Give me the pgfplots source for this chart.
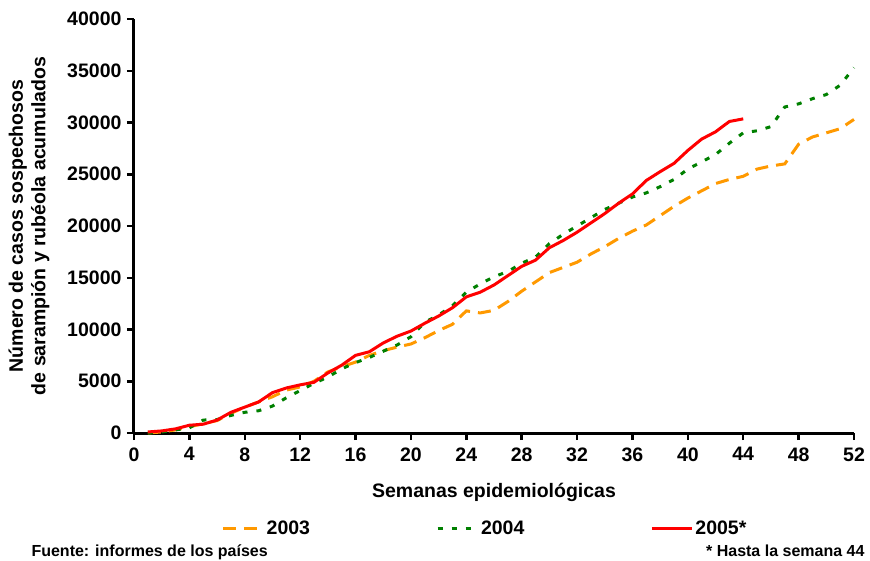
\documentclass[border=0pt]{standalone}
\usepackage{pgfplots}
\pgfplotsset{compat=1.18}
\usepackage{fontspec}
\setmainfont{Liberation Sans}
\definecolor{c2003}{RGB}{255,153,0}
\definecolor{c2004}{RGB}{0,128,0}
\definecolor{c2005}{RGB}{255,0,0}
\begin{document}
\begin{tikzpicture}[font=\bfseries\fontsize{19.5}{22.5}\selectfont]
\begin{axis}[
  at={(0pt,0pt)}, anchor=south west,
  scale only axis, width=720pt, height=414pt,
  xmin=0, xmax=52, ymin=0, ymax=40000,
  axis x line*=bottom, axis y line*=left,
  axis line style={line width=3pt, black},
  xtick={0,4,...,52}, ytick={0,5000,...,40000},
  tick style={line width=2.5pt, black},
  major tick length=7pt,
  tick align=outside,
  /pgf/number format/assume math mode=true,
  scaled y ticks=false,
  yticklabel style={/pgf/number format/1000 sep={}, xshift=-2pt},
  xticklabel style={yshift=-4pt},
  xlabel={Semanas epidemiológicas},
  xlabel style={at={(axis description cs:0.5,-0.1425)}, anchor=center},
  ylabel={Número de casos sospechosos\\de sarampión y rubéola acumulados},
  ylabel style={align=center, at={(axis description cs:-0.1458,0.5)}, anchor=center},
  legend columns=3,
  legend style={at={(axis description cs:0.1215,-0.2295)}, anchor=west, draw=none, inner sep=0pt,
    /tikz/every even column/.append style={column sep=124pt}},
  legend image code/.code={\draw[#1] (0pt,0pt) -- (40pt,0pt);},
  clip=false,
]
\addplot[c2003, line width=3pt, dash pattern=on 13pt off 8pt] coordinates {
(1,0) (2,100) (3,300) (4,600) (5,900) (6,1200) (7,1900) (8,2500) (9,3000) (10,3500)
(11,4150) (12,4450) (13,5000) (14,5900) (15,6400) (16,6850) (17,7500) (18,7950) (19,8300) (20,8600)
(21,9200) (22,9900) (23,10500) (24,11800) (25,11600) (26,11850) (27,12700) (28,13700) (29,14600) (30,15500)
(31,16000) (32,16500) (33,17300) (34,18000) (35,18800) (36,19500) (37,20100) (38,21000) (39,21900) (40,22700)
(41,23400) (42,24100) (43,24500) (44,24800) (45,25500) (46,25800) (47,26000) (48,27900) (49,28600) (50,29000)
(51,29400) (52,30300)};
\addlegendentry{2003}
\addplot[c2004, line width=3pt, dash pattern=on 5pt off 9pt] coordinates {
(1,0) (2,100) (3,300) (4,500) (5,1250) (6,1300) (7,1700) (8,2000) (9,2150) (10,2600)
(11,3400) (12,4100) (13,4800) (14,5400) (15,6200) (16,6800) (17,7300) (18,7900) (19,8500) (20,9300)
(21,10700) (22,11400) (23,12300) (24,13600) (25,14400) (26,15100) (27,15600) (28,16400) (29,17000) (30,18300)
(31,19200) (32,20000) (33,20800) (34,21600) (35,22200) (36,22800) (37,23200) (38,23800) (39,24500) (40,25500)
(41,26200) (42,26900) (43,28000) (44,29000) (45,29200) (46,29600) (47,31500) (48,31800) (49,32300) (50,32700)
(51,33600) (52,35300)};
\addlegendentry{2004}
\addplot[c2005, line width=3pt] coordinates {
(1,100) (2,200) (3,400) (4,750) (5,850) (6,1250) (7,2000) (8,2500) (9,3000) (10,3900)
(11,4350) (12,4650) (13,4900) (14,5800) (15,6550) (16,7500) (17,7850) (18,8700) (19,9350) (20,9850)
(21,10600) (22,11300) (23,12100) (24,13150) (25,13600) (26,14300) (27,15200) (28,16100) (29,16700) (30,17900)
(31,18600) (32,19400) (33,20300) (34,21200) (35,22200) (36,23100) (37,24400) (38,25250) (39,26050) (40,27300)
(41,28400) (42,29100) (43,30100) (44,30350)};
\addlegendentry{2005*}
\end{axis}
\node[anchor=base west, font=\bfseries\fontsize{16}{19}\selectfont] at (-106pt,-123.5pt) {Fuente: informes de los países};
\node[anchor=base east, font=\bfseries\fontsize{16}{19}\selectfont] at (734pt,-123.5pt) {* Hasta la semana 44};
\pgfresetboundingbox
\path[use as bounding box] (-134pt,-127pt) rectangle (736pt,433pt);
\end{tikzpicture}
\end{document}
